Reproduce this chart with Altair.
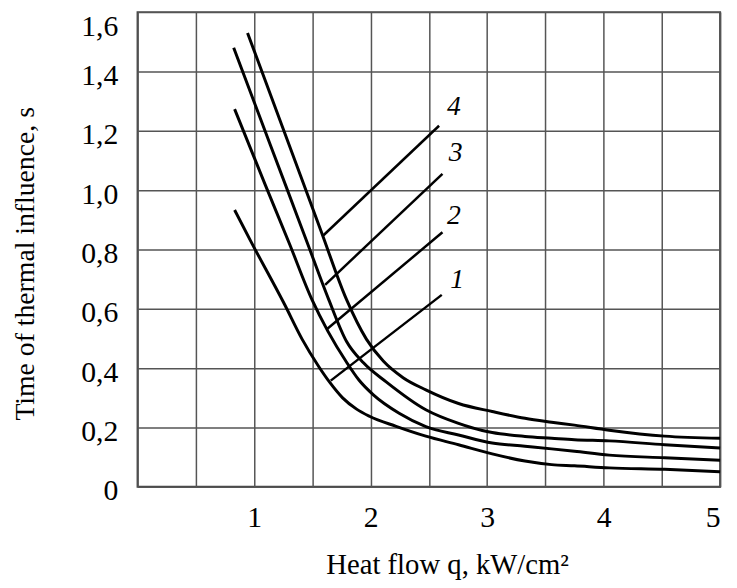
import altair as alt
import pandas as pd

# Curve 1
q1 = [0.833, 0.969, 1.259, 1.412, 1.556, 1.650, 1.760, 1.880, 1.990, 2.219, 2.474, 2.755, 3.044, 3.325, 3.554, 3.750, 4.048, 4.524, 5.0]
t1 = [0.933, 0.830, 0.617, 0.498, 0.405, 0.352, 0.300, 0.262, 0.238, 0.204, 0.171, 0.142, 0.111, 0.087, 0.075, 0.071, 0.064, 0.059, 0.051]
# Curve 2
q2 = [0.833, 1.097, 1.301, 1.497, 1.633, 1.794, 1.900, 2.024, 2.245, 2.474, 2.755, 3.044, 3.325, 3.554, 3.750, 4.048, 4.524, 5.0]
t2 = [1.273, 1.017, 0.822, 0.631, 0.525, 0.420, 0.360, 0.310, 0.248, 0.203, 0.175, 0.148, 0.137, 0.128, 0.120, 0.107, 0.098, 0.090]
# Curve 3
q3 = [0.825, 1.012, 1.276, 1.463, 1.641, 1.794, 1.939, 2.134, 2.474, 2.755, 2.959, 3.044, 3.325, 3.554, 3.750, 4.048, 4.524, 5.0]
t3 = [1.480, 1.285, 1.011, 0.816, 0.631, 0.490, 0.418, 0.354, 0.260, 0.214, 0.190, 0.183, 0.170, 0.164, 0.159, 0.155, 0.142, 0.131]
# Curve 4
q4 = [0.944, 1.259, 1.573, 1.794, 1.964, 2.109, 2.279, 2.474, 2.755, 3.044, 3.325, 3.554, 3.750, 4.048, 4.524, 5.0]
t4 = [1.530, 1.197, 0.864, 0.631, 0.498, 0.424, 0.368, 0.327, 0.281, 0.254, 0.231, 0.218, 0.208, 0.191, 0.171, 0.164]

# Leader lines and curve labels
lab_names = ["1", "2", "3", "4"]
lead_q0 = [1.658, 1.624, 1.610, 1.596]
lead_t0 = [0.358, 0.531, 0.681, 0.848]
lead_q1 = [2.611, 2.617, 2.617, 2.588]
lead_t1 = [0.647, 0.858, 1.055, 1.217]
lab_q = [2.744, 2.715, 2.730, 2.715]
lab_t = [0.697, 0.914, 1.125, 1.280]

x_grid = [0, 0.5, 1, 1.5, 2, 2.5, 3, 3.5, 4, 4.5, 5]
y_grid = [0, 0.2, 0.4, 0.6, 0.8, 1.0, 1.2, 1.4, 1.6]

rows = []
for name, qs, ts in [("1", q1, t1), ("2", q2, t2), ("3", q3, t3), ("4", q4, t4)]:
    for i, (q, t) in enumerate(zip(qs, ts)):
        rows.append({"curve": name, "q": q, "t": t, "order": i})
curves = pd.DataFrame(rows)

leaders = pd.DataFrame({"name": lab_names, "q0": lead_q0, "t0": lead_t0, "q1": lead_q1, "t1": lead_t1})
labels = pd.DataFrame({"name": lab_names, "q": lab_q, "t": lab_t})

FONT = "Liberation Serif"

xscale = alt.Scale(domain=[0, 5], nice=False, zero=False)
yscale = alt.Scale(domain=[0, 1.6], nice=False, zero=False)

xaxis = alt.Axis(
    values=x_grid,
    labelExpr="datum.value >= 1 && datum.value % 1 == 0 ? datum.value : ''",
    title="Heat flow q, kW/cm²",
    grid=True, ticks=False, domain=False,
    labelFont=FONT, labelFontSize=30, labelColor="black", labelPadding=16,
    titleFont=FONT, titleFontSize=29, titleFontWeight="normal", titleColor="black", titlePadding=19,
    titleX=313,
    gridColor="#555555", gridWidth=1.5, gridOpacity=1,
)
yaxis = alt.Axis(
    values=y_grid,
    labelExpr="datum.value == 0 ? '0' : replace(format(datum.value, '.1f'), '.', ',')",
    title="Time of thermal influence, s",
    grid=True, ticks=False, domain=False,
    labelFont=FONT, labelFontSize=30, labelColor="black", labelPadding=20,
    labelBaseline={"condition": {"test": "datum.value >= 1.59", "value": "top"}, "value": "middle"},
    labelOffset={"condition": {"test": "datum.value >= 1.59", "value": 0},
                 "value": 4},
    titleFont=FONT, titleFontSize=28, titleFontWeight="normal", titleColor="black", titlePadding=42,
    titleY=254,
    gridColor="#555555", gridWidth=1.5, gridOpacity=1,
)

lines = alt.Chart(curves).mark_line(color="black", strokeWidth=3, interpolate="monotone").encode(
    x=alt.X("q:Q", scale=xscale, axis=xaxis),
    y=alt.Y("t:Q", scale=yscale, axis=yaxis),
    detail="curve:N",
    order="order:Q",
)

rules = alt.Chart(leaders).mark_rule(color="black", strokeWidth=2.5).encode(
    x=alt.X("q0:Q", scale=xscale),
    y=alt.Y("t0:Q", scale=yscale),
    x2="q1:Q",
    y2="t1:Q",
)

texts = alt.Chart(labels).mark_text(font=FONT, fontSize=28, fontStyle="italic", color="black",
                                    align="center", baseline="middle").encode(
    x=alt.X("q:Q", scale=xscale),
    y=alt.Y("t:Q", scale=yscale),
    text="name:N",
)

chart = alt.layer(lines, rules, texts).properties(
    width=589, height=480,
    autosize=alt.AutoSizeParams(type="none"),
    padding={"left": 131, "top": 1, "right": 9, "bottom": 91},
    background="white",
).configure_view(stroke="#444444", strokeWidth=2)

chart.save("out.html", embed_options={"renderer": "svg", "actions": False})
